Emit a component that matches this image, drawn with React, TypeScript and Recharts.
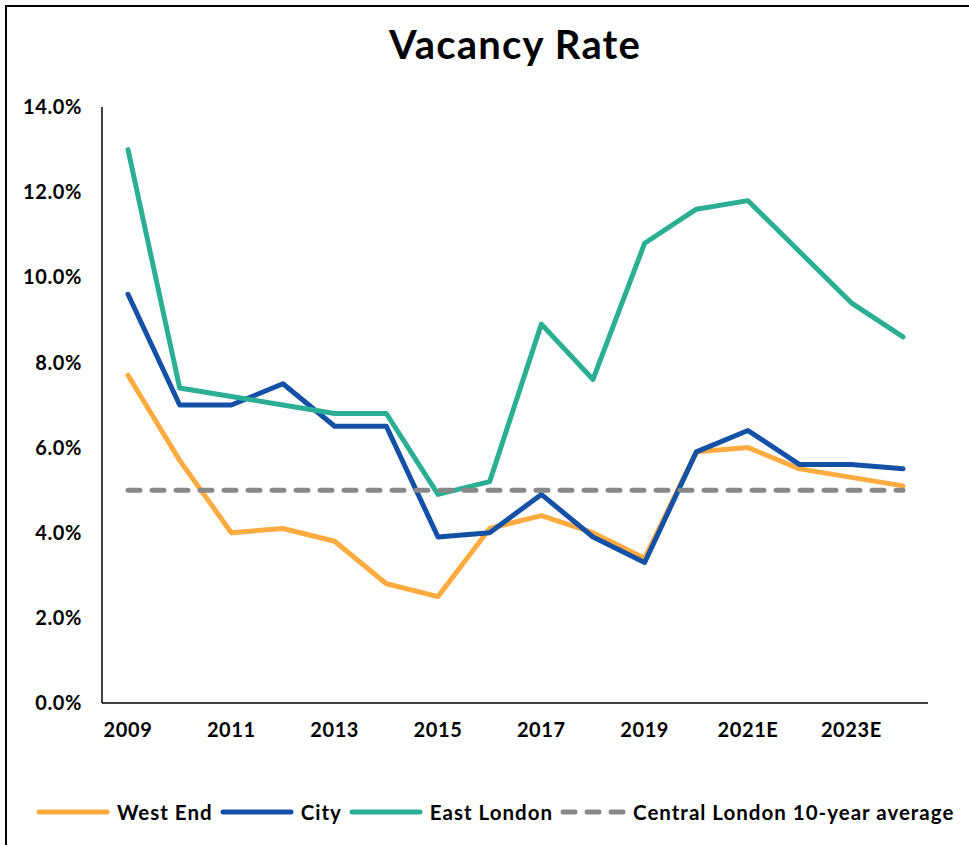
import React from 'react';
import { LineChart, Line, XAxis, YAxis, Legend } from 'recharts';

const years = [
  '2009', '2010', '2011', '2012', '2013', '2014', '2015', '2016',
  '2017', '2018', '2019', '2020', '2021E', '2022E', '2023E', '2024E',
];
const westEnd = [7.7, 5.7, 4.0, 4.1, 3.8, 2.8, 2.5, 4.1, 4.4, 4.0, 3.4, 5.9, 6.0, 5.5, 5.3, 5.1];
const city = [9.6, 7.0, 7.0, 7.5, 6.5, 6.5, 3.9, 4.0, 4.9, 3.9, 3.3, 5.9, 6.4, 5.6, 5.6, 5.5];
const eastLondon = [13.0, 7.4, 7.2, 7.0, 6.8, 6.8, 4.9, 5.2, 8.9, 7.6, 10.8, 11.6, 11.8, 10.6, 9.4, 8.6];
const centralAvg = [5.0, 5.0, 5.0, 5.0, 5.0, 5.0, 5.0, 5.0, 5.0, 5.0, 5.0, 5.0, 5.0, 5.0, 5.0, 5.0];
const yTicks = [0, 2, 4, 6, 8, 10, 12, 14];

const FONT = 'Lato, "Open Sans", sans-serif';

const series = [
  { key: 'westEnd', name: 'West End', color: '#FFAB40', dash: undefined as string | undefined },
  { key: 'city', name: 'City', color: '#1351A6', dash: undefined as string | undefined },
  { key: 'eastLondon', name: 'East London', color: '#2AAE94', dash: undefined as string | undefined },
  { key: 'centralAvg', name: 'Central London 10-year average', color: '#888888', dash: '12 12' },
];

const data = years.map((year, i) => ({
  year,
  westEnd: westEnd[i],
  city: city[i],
  eastLondon: eastLondon[i],
  centralAvg: centralAvg[i],
}));

const tickStyle = { fill: '#000', fontSize: 20, fontWeight: 700, fontFamily: FONT, letterSpacing: 0.6 };

function LegendContent() {
  return (
    <div
      style={{
        display: 'flex', alignItems: 'center', fontFamily: FONT, fontWeight: 700,
        fontSize: 20.5, letterSpacing: 1, color: '#000', whiteSpace: 'nowrap',
      }}
    >
      {series.map((s) => (
        <div key={s.key} style={{ display: 'flex', alignItems: 'center', marginRight: 7 }}>
          <svg width={s.dash ? 66 : 74} height={10} style={{ marginRight: 7 }}>
            <line
              x1={3}
              y1={5}
              x2={s.dash ? 63 : 71}
              y2={5}
              stroke={s.color}
              strokeWidth={5}
              strokeLinecap="round"
              strokeDasharray={s.dash}
            />
          </svg>
          <span>{s.name}</span>
        </div>
      ))}
    </div>
  );
}

export default function App() {
  return (
    <div style={{ position: 'absolute', left: 0, top: 0, width: 969, height: 845, overflow: 'hidden', background: '#fff' }}>
      <div
        style={{
          position: 'absolute', left: 5, top: 5, width: 1000, height: 900,
          borderLeft: '2px solid #000', borderTop: '2px solid #000',
        }}
      />
      <div
        style={{
          position: 'absolute', left: 102, top: 20, width: 826, textAlign: 'center',
          fontFamily: FONT, fontWeight: 700, fontSize: 40, letterSpacing: 1.2, color: '#000',
        }}
      >
        Vacancy Rate
      </div>
      <div style={{ position: 'absolute', left: 0, top: 0 }}>
        <LineChart width={969} height={845} data={data} margin={{ top: 107, right: 41, bottom: 102, left: 0 }}>
          <XAxis
            dataKey="year"
            interval={1}
            padding={{ left: 26, right: 25 }}
            tickLine={false}
            tickSize={0}
            tickMargin={20}
            height={40}
            axisLine={{ stroke: '#000', strokeWidth: 1.5 }}
            tick={tickStyle}
          />
          <YAxis
            domain={[0, 14]}
            ticks={yTicks}
            width={102}
            tickLine={false}
            tickSize={0}
            tickMargin={20}
            axisLine={{ stroke: '#000', strokeWidth: 1.5 }}
            tickFormatter={(v: number) => `${v.toFixed(1)}%`}
            tick={tickStyle}
          />
          {series.map((s) => (
            <Line
              key={s.key}
              type="linear"
              dataKey={s.key}
              name={s.name}
              stroke={s.color}
              strokeWidth={5}
              strokeDasharray={s.dash}
              strokeLinecap="round"
              strokeLinejoin="round"
              dot={false}
              activeDot={false}
              isAnimationActive={false}
            />
          ))}
          <Legend
            layout="horizontal"
            verticalAlign="middle"
            align="center"
            content={<LegendContent />}
            wrapperStyle={{ position: 'absolute', left: 36, top: 800, width: 940 }}
          />
        </LineChart>
      </div>
    </div>
  );
}
